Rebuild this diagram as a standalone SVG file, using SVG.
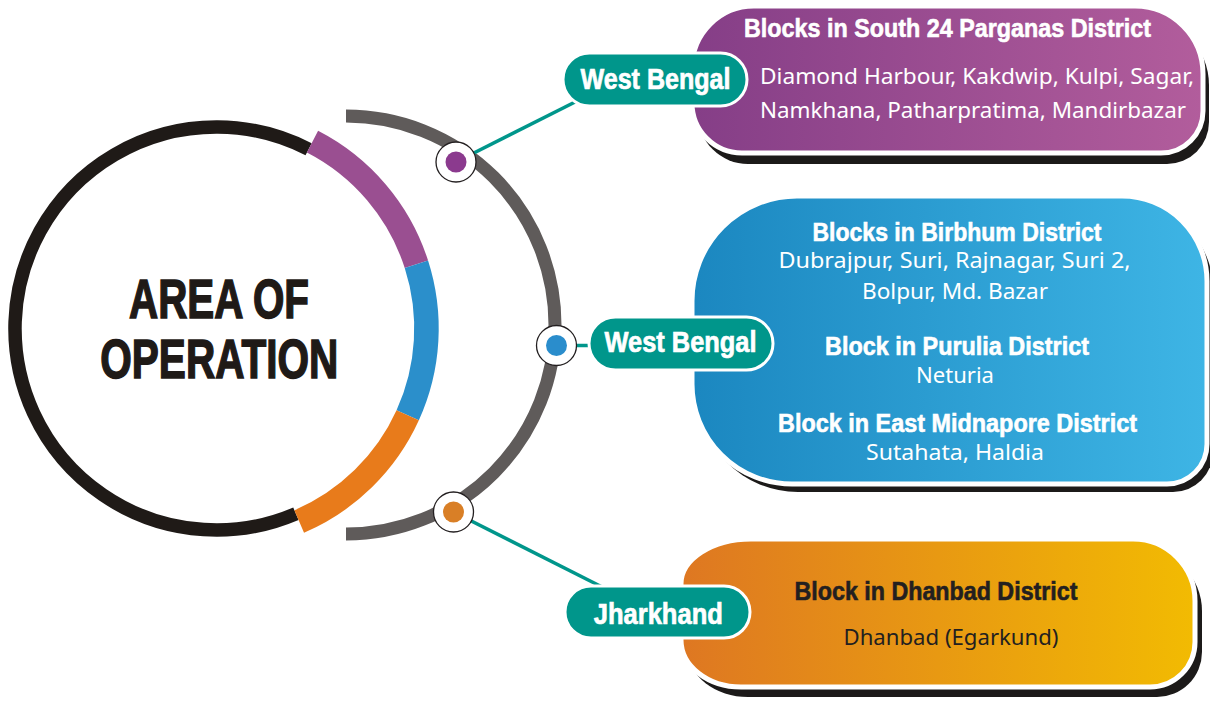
<svg xmlns="http://www.w3.org/2000/svg" width="1210" height="702" viewBox="0 0 1210 702">
<defs>
<linearGradient id="gPurple" x1="0" y1="0" x2="1" y2="0"><stop offset="0" stop-color="#853e87"/><stop offset="1" stop-color="#b25d9c"/></linearGradient>
<linearGradient id="gBlue" x1="0" y1="0" x2="1" y2="0"><stop offset="0" stop-color="#1b87c0"/><stop offset="1" stop-color="#3eb5e5"/></linearGradient>
<linearGradient id="gOrange" x1="0" y1="0" x2="1" y2="0"><stop offset="0" stop-color="#de7722"/><stop offset="1" stop-color="#f2bb02"/></linearGradient>
<style>
.shadow{fill:#1c1a19}
.panel{stroke:#fff;stroke-width:5}
.pill{fill:#00968b;stroke:#fff;stroke-width:3}
.pilltxt{font-family:"Liberation Sans",Arial,sans-serif;font-weight:bold;font-size:30px;fill:#fff;stroke:#fff;stroke-width:0.7;text-anchor:middle}
.head{font-family:"Liberation Sans",Arial,sans-serif;font-weight:bold;font-size:26.5px;fill:#fff;stroke:#fff;stroke-width:0.6;text-anchor:middle}
.body{font-family:"Noto Sans","DejaVu Sans",sans-serif;font-size:22.5px;fill:#fff}
.dark{fill:#231f20}
.head.dark{stroke:#231f20}
.mid{text-anchor:middle}
.conn{stroke:#00968b;stroke-width:3.5;fill:none}
.ring{fill:#fff;stroke:#231f20;stroke-width:1.3}
.arc{fill:none;stroke-linecap:butt}
.title{font-family:"Liberation Sans",Arial,sans-serif;font-weight:bold;font-size:56px;fill:#1f1a17;stroke:#1f1a17;stroke-width:1.6;text-anchor:middle}
</style>
</defs>
<rect width="1210" height="702" fill="#fff"/>

<g id="main-circle">
<path class="arc" d="M295.9,513.7 A201.5,201.5 0 1 1 308.6,149.3" stroke="#1f1a17" stroke-width="13.5"/>
<path class="arc" d="M312.5,141.7 A210,210 0 0 1 416.4,264.3" stroke="#9a4f91" stroke-width="24.5"/>
<path class="arc" d="M416.4,264.3 A210,210 0 0 1 407.7,415.3" stroke="#2b8fcb" stroke-width="24.5"/>
<path class="arc" d="M407.7,415.3 A210,210 0 0 1 299.2,521.5" stroke="#e87b1b" stroke-width="24.5"/>
<text class="title" x="219" y="318" textLength="180" lengthAdjust="spacingAndGlyphs">AREA OF</text>
<text class="title" x="219.3" y="378" textLength="238" lengthAdjust="spacingAndGlyphs">OPERATION</text>
</g>

<g id="connectors">
<path class="arc" d="M346,116 A209,209 0 0 1 346,534" stroke="#5f5b5a" stroke-width="13"/>
<line class="conn" x1="456" y1="162" x2="585" y2="97"/>
<line class="conn" x1="556.5" y1="345.5" x2="595" y2="345.5"/>
<line class="conn" x1="453.5" y1="512" x2="612" y2="592"/>
</g>

<g id="dot-purple"><circle class="ring" cx="456" cy="162" r="20"/><circle cx="456" cy="162" r="10.5" fill="#8b3a8e"/></g>
<g id="dot-blue"><circle class="ring" cx="556.5" cy="345.5" r="20"/><circle cx="556.5" cy="345.5" r="10.5" fill="#2a8dcc"/></g>
<g id="dot-orange"><circle class="ring" cx="453.5" cy="512" r="20"/><circle cx="453.5" cy="512" r="10.5" fill="#d97f26"/></g>

<g id="panel-south24">
<path class="shadow" transform="translate(6,11)" d="M754,6 H1135 A68,68 0 0 1 1203,74 V111 A42,42 0 0 1 1161,153 H742 A50,50 0 0 1 692,103 V68 A62,62 0 0 1 754,6 Z"/>
<path class="panel" fill="url(#gPurple)" d="M754,6 H1135 A68,68 0 0 1 1203,74 V111 A42,42 0 0 1 1161,153 H742 A50,50 0 0 1 692,103 V68 A62,62 0 0 1 754,6 Z"/>
<text class="head" x="947.5" y="36.5" textLength="407" lengthAdjust="spacingAndGlyphs">Blocks in South 24 Parganas District</text>
<text class="body" x="760" y="84" textLength="434" lengthAdjust="spacingAndGlyphs">Diamond Harbour, Kakdwip, Kulpi, Sagar,</text>
<text class="body" x="760" y="118" textLength="426" lengthAdjust="spacingAndGlyphs">Namkhana, Patharpratima, Mandirbazar</text>
</g>

<g id="panel-birbhum">
<path class="shadow" transform="translate(6,8)" d="M797,196 H1122 A85,85 0 0 1 1207,281 V444 A40,40 0 0 1 1167,484 H792 A100,100 0 0 1 692,384 V301 A105,105 0 0 1 797,196 Z"/>
<path class="panel" fill="url(#gBlue)" d="M797,196 H1122 A85,85 0 0 1 1207,281 V444 A40,40 0 0 1 1167,484 H792 A100,100 0 0 1 692,384 V301 A105,105 0 0 1 797,196 Z"/>
<text class="head" x="957" y="240.5" textLength="289" lengthAdjust="spacingAndGlyphs">Blocks in Birbhum District</text>
<text class="body mid" x="954.5" y="267.5" textLength="352" lengthAdjust="spacingAndGlyphs">Dubrajpur, Suri, Rajnagar, Suri 2,</text>
<text class="body mid" x="955" y="298.5" textLength="186" lengthAdjust="spacingAndGlyphs">Bolpur, Md. Bazar</text>
<text class="head" x="957" y="355" textLength="264" lengthAdjust="spacingAndGlyphs">Block in Purulia District</text>
<text class="body mid" x="955" y="382.5" textLength="78" lengthAdjust="spacingAndGlyphs">Neturia</text>
<text class="head" x="957.5" y="432" textLength="359" lengthAdjust="spacingAndGlyphs">Block in East Midnapore District</text>
<text class="body mid" x="955" y="459.5" textLength="178" lengthAdjust="spacingAndGlyphs">Sutahata, Haldia</text>
</g>

<g id="panel-dhanbad">
<path class="shadow" transform="translate(7,10)" d="M751,539 H1133 A62,62 0 0 1 1195,601 V642 A45,45 0 0 1 1150,687 H741 A60,47 0 0 1 681,640 V584 A70,45 0 0 1 751,539 Z"/>
<path class="panel" fill="url(#gOrange)" d="M751,539 H1133 A62,62 0 0 1 1195,601 V642 A45,45 0 0 1 1150,687 H741 A60,47 0 0 1 681,640 V584 A70,45 0 0 1 751,539 Z"/>
<text class="head dark" x="936" y="599.5" textLength="283" lengthAdjust="spacingAndGlyphs">Block in Dhanbad District</text>
<text class="body dark mid" x="951" y="644.5" textLength="215" lengthAdjust="spacingAndGlyphs">Dhanbad (Egarkund)</text>
</g>

<g id="pill-west-bengal-1">
<rect class="pill" x="563" y="53" width="184" height="53" rx="26.5"/>
<text class="pilltxt" x="655.5" y="88.5" textLength="150" lengthAdjust="spacingAndGlyphs">West Bengal</text>
</g>
<g id="pill-west-bengal-2">
<rect class="pill" x="589" y="317" width="184" height="53" rx="26.5"/>
<text class="pilltxt" x="680.5" y="352" textLength="152" lengthAdjust="spacingAndGlyphs">West Bengal</text>
</g>
<g id="pill-jharkhand">
<rect class="pill" x="565" y="586" width="185" height="52" rx="26"/>
<text class="pilltxt" x="658.3" y="623.5" textLength="129" lengthAdjust="spacingAndGlyphs">Jharkhand</text>
</g>
</svg>
